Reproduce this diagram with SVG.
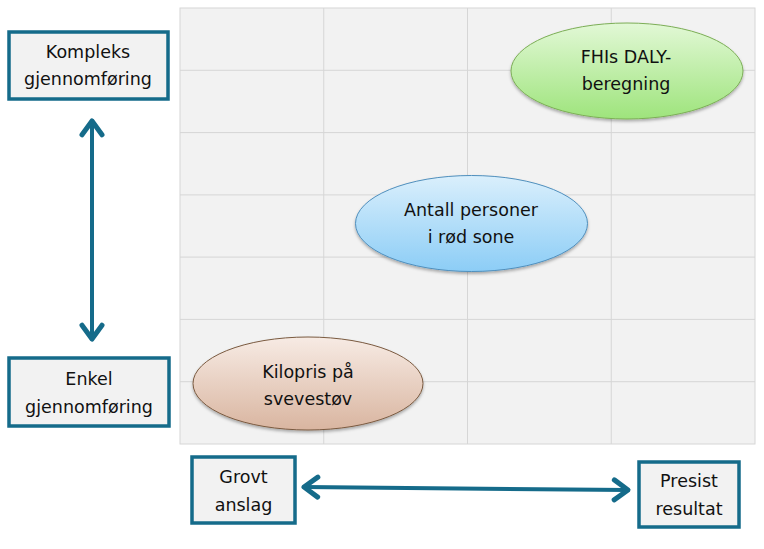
<svg xmlns="http://www.w3.org/2000/svg" width="764" height="549" viewBox="0 0 764 549">
<style>
.box{fill:#f2f2f2;stroke:#156b8a;stroke-width:3.5}
.t{font-family:"DejaVu Sans",sans-serif;font-size:17.5px;fill:#111;text-anchor:middle}
.grid line{stroke:#d6d6d6;stroke-width:1}
.conn{stroke:#156b8a;stroke-width:4;fill:none;stroke-linecap:round}
</style>
<defs>
<marker id="ah" markerUnits="userSpaceOnUse" markerWidth="30" markerHeight="30" refX="0" refY="0" viewBox="-16 -12 20 24" orient="auto-start-reverse" overflow="visible">
<path d="M-11,-8 L0,0 L-11,8" fill="none" stroke="#156b8a" stroke-width="4" stroke-linecap="round" stroke-linejoin="round"/>
</marker>
<linearGradient id="gG" x1="0" y1="0" x2="0" y2="1">
<stop offset="0" stop-color="#e2f8d6"/><stop offset="1" stop-color="#9ee47c"/>
</linearGradient>
<linearGradient id="gB" x1="0" y1="0" x2="0" y2="1">
<stop offset="0" stop-color="#daeffc"/><stop offset="1" stop-color="#8ccdf6"/>
</linearGradient>
<linearGradient id="gR" x1="0" y1="0" x2="0" y2="1">
<stop offset="0" stop-color="#f7ebe4"/><stop offset="1" stop-color="#d9b5a0"/>
</linearGradient>
<filter id="sh" x="-10%" y="-10%" width="120%" height="130%">
<feDropShadow dx="0" dy="2" stdDeviation="1.5" flood-color="#000" flood-opacity="0.3"/>
</filter>
</defs>
<g id="grid" class="grid">
<rect x="180" y="8" width="575" height="436" fill="#f2f2f2" stroke="#d6d6d6" stroke-width="1"/>
<line x1="323.75" y1="8" x2="323.75" y2="444"/>
<line x1="467.5" y1="8" x2="467.5" y2="444"/>
<line x1="611.25" y1="8" x2="611.25" y2="444"/>
<line x1="180" y1="70.3" x2="755" y2="70.3"/>
<line x1="180" y1="132.6" x2="755" y2="132.6"/>
<line x1="180" y1="194.9" x2="755" y2="194.9"/>
<line x1="180" y1="257.1" x2="755" y2="257.1"/>
<line x1="180" y1="319.4" x2="755" y2="319.4"/>
<line x1="180" y1="381.7" x2="755" y2="381.7"/>
</g>
<g id="kompleks">
<rect class="box" x="9" y="32" width="159" height="67"/>
<text class="t" x="88" y="58">Kompleks</text>
<text class="t" x="88" y="85">gjennomføring</text>
</g>
<g id="enkel">
<rect class="box" x="9" y="358" width="160" height="68"/>
<text class="t" x="89" y="385">Enkel</text>
<text class="t" x="89" y="413">gjennomføring</text>
</g>
<g id="grovt">
<rect class="box" x="192" y="457" width="103" height="66"/>
<text class="t" x="243.5" y="483">Grovt</text>
<text class="t" x="243.5" y="511">anslag</text>
</g>
<g id="presist">
<rect class="box" x="639" y="462" width="100" height="65"/>
<text class="t" x="689" y="487">Presist</text>
<text class="t" x="689" y="515">resultat</text>
</g>
<g id="fhi">
<ellipse cx="627" cy="71" rx="116" ry="48" fill="url(#gG)" stroke="#7cae56" stroke-width="1" filter="url(#sh)"/>
<text class="t" x="626" y="63">FHIs DALY-</text>
<text class="t" x="626" y="90">beregning</text>
</g>
<g id="antall">
<ellipse cx="471.5" cy="223.5" rx="116" ry="48" fill="url(#gB)" stroke="#4f8fbd" stroke-width="1" filter="url(#sh)"/>
<text class="t" x="471" y="216">Antall personer</text>
<text class="t" x="471" y="243">i rød sone</text>
</g>
<g id="kilopris">
<ellipse cx="308" cy="383.5" rx="115" ry="46.5" fill="url(#gR)" stroke="#7a5a40" stroke-width="1" filter="url(#sh)"/>
<text class="t" x="308" y="378">Kilopris på</text>
<text class="t" x="308" y="405">svevestøv</text>
</g>
<g id="connectors">
<line class="conn" x1="92" y1="121" x2="92" y2="339" marker-start="url(#ah)" marker-end="url(#ah)"/>
<line class="conn" x1="304" y1="487" x2="628" y2="490" marker-start="url(#ah)" marker-end="url(#ah)"/>
</g>
</svg>
